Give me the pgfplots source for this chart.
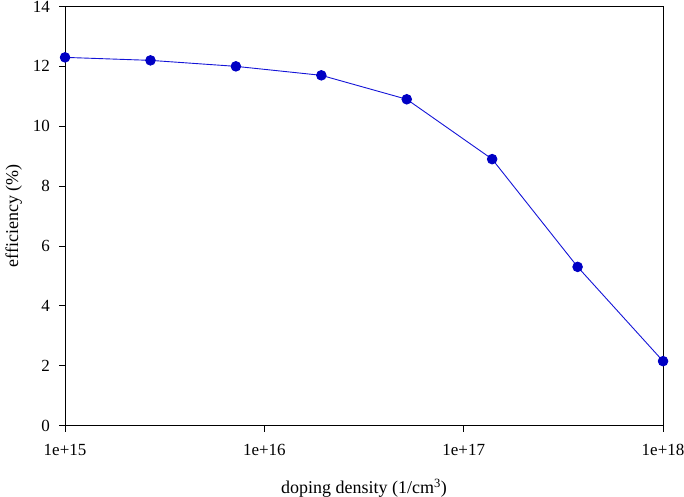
\documentclass[border=0pt]{standalone}
\usepackage{fontspec}
\setmainfont{Liberation Serif}
\usepackage{pgfplots}
\pgfplotsset{compat=1.18}
\definecolor{ptblue}{RGB}{0,0,196}
\definecolor{lnblue}{RGB}{20,20,215}
\begin{document}
\begin{tikzpicture}
\begin{axis}[
    at={(0,0)}, anchor=south west,
    scale only axis,
    width=598bp, height=419bp,
    xmode=log,
    xmin=1e15, xmax=1e18,
    ymin=0, ymax=14,
    xtick={1e15,1e16,1e17,1e18},
    xticklabels={1e+15,1e+16,1e+17,1e+18},
    xminorticks=false,
    ytick={0,2,...,14},
    axis line style={line width=0.9bp},
    tick style={black, line width=0.8bp},
    tick align=outside,
    xtick pos=left, ytick pos=left,
    major tick length=6bp,
    /pgf/number format/assume math mode=true,
    tick label style={font=\fontsize{17bp}{19bp}\selectfont, inner sep=0pt},
    xticklabel style={anchor=base, yshift=-24bp},
    yticklabel style={anchor=east, xshift=-9bp},
    xlabel={doping density (1/cm\textsuperscript{3})},
    ylabel={efficiency (\%)},
    label style={font=\fontsize{18bp}{20bp}\selectfont, inner sep=0pt},
    xlabel style={at={(axis description cs:0.5,-0.162)}, anchor=base},
    ylabel style={at={(axis description cs:-0.0786,0.5)}, anchor=base, rotate=0},
]
\addplot[color=lnblue, line width=0.9bp, mark=*, mark size=4.8bp,
    mark options={fill=ptblue, draw=ptblue}] coordinates {
    (1e15, 12.3)
    (2.683e15, 12.2)
    (7.197e15, 12.0)
    (1.931e16, 11.7)
    (5.179e16, 10.9)
    (1.389e17, 8.9)
    (3.728e17, 5.3)
    (1e18, 2.15)
};
\end{axis}
\pgfresetboundingbox
\path (-65bp,-71.5bp) rectangle (619bp,425.5bp);
\end{tikzpicture}
\end{document}
